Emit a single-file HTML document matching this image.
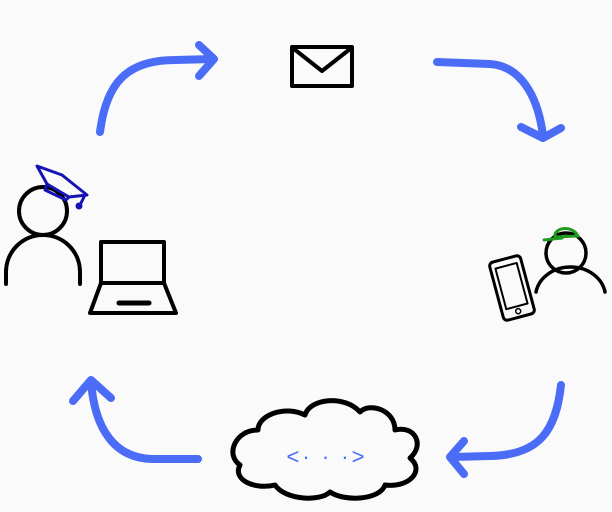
<!DOCTYPE html>
<html><head><style>html,body{margin:0;padding:0;background:#fafafa;}svg{display:block}</style></head>
<body>
<svg width="612" height="512" viewBox="0 0 612 512" xmlns="http://www.w3.org/2000/svg">
<rect width="612" height="512" fill="#fafafa"/>
<g fill="none" stroke="#4a6cf7" stroke-width="8" stroke-linecap="round" stroke-linejoin="round">
<path d="M100,132 C106,85 125,60 175,60 L213,59"/>
<path d="M199,45 L214,59 L199,76"/>
<path d="M437,62 L490,64 C520,66 538,95 543,136"/>
<path d="M521,127 L543,138 L561,128"/>
<path d="M561,385 C556,430 540,455 490,456 L452,457"/>
<path d="M464,441 L450,457 L464,474"/>
<path d="M198,459 L152,459 C115,458 95,430 91,382"/>
<path d="M73,401 L91,380 L111,398"/>
</g>
<g fill="none" stroke="#000" stroke-width="4" stroke-linejoin="round" stroke-linecap="round">
<rect x="292" y="47" width="60" height="39"/>
<path d="M294,49 L322,71 L350,49"/>
<circle cx="43" cy="211" r="24"/>
<path d="M6,284 L6,272 A37,37 0 0 1 80,272 L80,284"/>
<rect x="101" y="242" width="63" height="41"/>
<path d="M101,283 L90,313 L176,313 L164,283"/>
<path d="M119,303 L149,303" stroke-width="5"/>
<path d="M258,430 C235,430 225,455 240,465 C232,480 255,490 275,485 C285,500 320,502 330,492 C345,502 380,500 385,485 C410,488 425,470 410,458 C425,445 415,425 395,430 C395,410 370,402 360,412 C345,395 310,398 305,415 C285,405 258,415 258,430 Z" stroke-width="5"/>
<circle cx="566" cy="253" r="20" stroke-width="3.5"/>
<path d="M536,292 A35,30 0 0 1 605,292" stroke-width="3.5"/>
<g transform="translate(512,288) rotate(-15)" stroke-width="3">
<rect x="-16" y="-30" width="32" height="60" rx="4"/>
<rect x="-11" y="-23" width="22" height="42" stroke-width="2"/>
<circle cx="0" cy="24" r="2.5" stroke-width="1.5"/>
</g>
</g>
<g fill="none" stroke="#1414b4" stroke-width="3" stroke-linejoin="round" stroke-linecap="round">
<path d="M37,166 L62,175 L87,195 L69,197 L47,184 Z"/>
<path d="M47,184 L45,190 L66,200 L69,197"/>
<path d="M84,197 L80,205"/>
<circle cx="79" cy="206" r="2" fill="#1414b4"/>
</g>
<g fill="none" stroke="#1f9a1f" stroke-width="3" stroke-linecap="round">
<path d="M555,237 C553,228 572,224 578,236 Z"/>
<path d="M544,240 L562,238"/>
</g>
<text x="327" y="464" text-anchor="middle" font-family="Liberation Sans, sans-serif" font-size="22" letter-spacing="3" fill="#4a6cf7">&lt;· · ·&gt;</text>
</svg>
</body></html>
